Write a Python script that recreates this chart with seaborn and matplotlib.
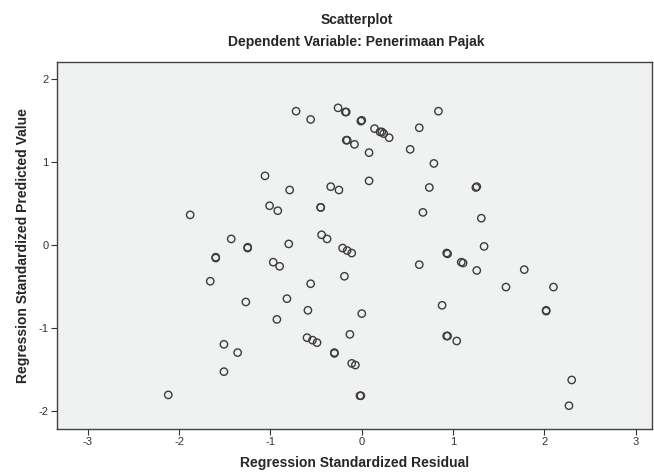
import pandas as pd
import matplotlib
matplotlib.use("Agg")
import matplotlib.pyplot as plt
import seaborn as sns

# residual / predicted pairs
residual = [
    -0.72, -0.56, -0.26, -0.18, -0.17, -0.01, 0.00, 0.14, 0.20, 0.22,
    0.24, 0.30, 0.84, 0.63, -0.17, -0.16, -0.08, 0.08, 0.53, 0.79,
    -1.06, -0.79, -0.34, -0.25, 0.08, 0.74, 1.25, 1.26, -1.88, -1.01,
    -0.92, -0.45, -0.45, 0.67, 1.31, -1.43, -0.44, -0.38, -0.80, -1.25,
    -1.25, -0.21, -0.16, -0.11, 1.34, 0.93, 0.94, 0.63, 1.09, 1.11,
    1.26, 1.78, -1.60, -1.60, -0.97, -0.90, -0.19, -1.66, -0.56, 1.58,
    2.10, -1.27, -0.82, -0.59, 0.00, 0.88, 2.02, 2.02, -0.93, -0.13,
    0.94, 0.93, 1.04, -0.60, -0.54, -0.49, -1.51, -1.36, -0.30, -0.30,
    -0.11, -0.07, -1.51, -2.12, -0.01, -0.02, 2.30, 2.27,
]
predicted = [
    1.61, 1.51, 1.65, 1.60, 1.60, 1.49, 1.50, 1.40, 1.36, 1.36,
    1.34, 1.29, 1.61, 1.41, 1.26, 1.26, 1.21, 1.11, 1.15, 0.98,
    0.83, 0.66, 0.70, 0.66, 0.77, 0.69, 0.69, 0.70, 0.36, 0.47,
    0.41, 0.45, 0.45, 0.39, 0.32, 0.07, 0.12, 0.07, 0.01, -0.03,
    -0.04, -0.04, -0.07, -0.10, -0.02, -0.10, -0.11, -0.24, -0.21, -0.22,
    -0.31, -0.30, -0.15, -0.16, -0.21, -0.26, -0.38, -0.44, -0.47, -0.51,
    -0.51, -0.69, -0.65, -0.79, -0.83, -0.73, -0.79, -0.80, -0.90, -1.08,
    -1.10, -1.10, -1.16, -1.12, -1.15, -1.18, -1.20, -1.30, -1.30, -1.31,
    -1.43, -1.45, -1.53, -1.81, -1.82, -1.82, -1.63, -1.94,
]
x_ticks = [-3, -2, -1, 0, 1, 2, 3]
y_ticks = [-2, -1, 0, 1, 2]

df = pd.DataFrame({"resid": residual, "pred": predicted})

sns.set_style("ticks")
plt.rcParams["font.family"] = ["Liberation Sans", "DejaVu Sans"]
plt.rcParams["axes.unicode_minus"] = False

fig = plt.figure(figsize=(6.54, 4.75), dpi=100)
ax = fig.add_axes([0.087, 0.097, 0.91, 0.772])
ax.set_facecolor("#f0f1f1")

sns.scatterplot(data=df, x="resid", y="pred", ax=ax, marker="o", s=28,
                facecolor="none", edgecolor="#3c3c3c", linewidth=1.0)

ax.set_xlim(-3.34, 3.18)
ax.set_ylim(-2.22, 2.2)
ax.set_xticks(x_ticks)
ax.set_yticks(y_ticks)
ax.tick_params(axis="both", labelsize=8, labelcolor="#333333",
               color="#333333", length=4, width=0.8, pad=2)

for side in ["left", "bottom", "top", "right"]:
    ax.spines[side].set_color("#444444")
    ax.spines[side].set_linewidth(1.0)

ax.set_xlabel("Regression Standardized Residual", fontsize=10,
              fontweight="bold", labelpad=6)
ax.set_ylabel("Regression Standardized Predicted Value", fontsize=10,
              fontweight="bold", labelpad=6)

fig.text(0.545, 0.958, "Scatterplot", ha="center", va="center",
         fontsize=10, fontweight="bold")
fig.text(0.545, 0.912, "Dependent Variable: Penerimaan Pajak",
         ha="center", va="center", fontsize=10, fontweight="bold")

fig.savefig("out.png", dpi=100)
